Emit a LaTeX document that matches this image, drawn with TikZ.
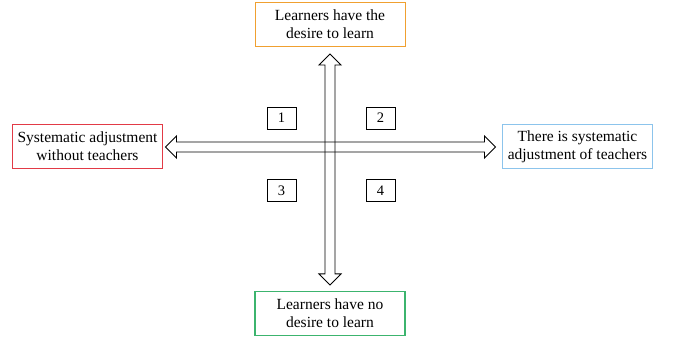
\documentclass[tikz,border=0pt]{standalone}
\usepackage{fontspec}
\setmainfont{Liberation Serif}
\usetikzlibrary{calc}
\definecolor{poleorange}{HTML}{F0A030}
\definecolor{polered}{HTML}{E23A46}
\definecolor{poleblue}{HTML}{8CC4EC}
\definecolor{polegreen}{RGB}{60,180,110}

\begin{document}
\begin{tikzpicture}[
    x=1pt, y=-1pt,
    label box/.style={rectangle, draw, line width=1pt,
                      minimum width=150pt, minimum height=44pt,
                      align=center, font=\fontsize{15.5}{18}\selectfont,
                      inner sep=0pt},
    num box/.style={rectangle, draw, line width=0.7pt,
                    minimum width=29pt, minimum height=22pt,
                    font=\fontsize{14.5}{16}\selectfont, inner sep=0pt},
    blockarrow/.style={draw, line width=0.9pt, line join=miter}
]
\useasboundingbox (0,0) rectangle (674,343);

% the four poles
\node[label box, draw=poleorange] (desire) at (330,24.5) {Learners have the\\desire to learn};
\node[label box, draw=polegreen, line width=1.2pt] (nodesire) at (330,313.5) {Learners have no\\desire to learn};
\node[label box, draw=polered] (without) at (87.5,146.5) {Systematic adjustment\\without teachers};
\node[label box, draw=poleblue] (with) at (577.5,146.5) {There is systematic\\adjustment of teachers};

% quadrant numbers
\node[num box] (q1) at (281.5,118) {1};
\node[num box] (q2) at (380.5,118) {2};
\node[num box] (q3) at (281.5,190.5) {3};
\node[num box] (q4) at (380.5,190.5) {4};

% tips of the two axes
\coordinate (hl) at ($(without.east)+(2.5,0.5)$);
\coordinate (hr) at ($(with.west)+(-6.5,0.5)$);
\coordinate (vt) at ($(desire.south)+(0,7)$);
\coordinate (vb) at ($(nodesire.north)+(0,-6)$);

% horizontal double arrow
\draw[blockarrow] (hl) -- ($(hl)+(11,-11)$) -- ($(hl)+(11,-5)$)
    -- ($(hr)+(-11,-5)$) -- ($(hr)+(-11,-11)$) -- (hr)
    -- ($(hr)+(-11,11)$) -- ($(hr)+(-11,5)$)
    -- ($(hl)+(11,5)$) -- ($(hl)+(11,11)$) -- cycle;

% vertical double arrow
\draw[blockarrow] (vt) -- ($(vt)+(11,11)$) -- ($(vt)+(5,11)$)
    -- ($(vb)+(5,-11)$) -- ($(vb)+(11,-11)$) -- (vb)
    -- ($(vb)+(-11,-11)$) -- ($(vb)+(-5,-11)$)
    -- ($(vt)+(-5,11)$) -- ($(vt)+(-11,11)$) -- cycle;
\end{tikzpicture}
\end{document}
